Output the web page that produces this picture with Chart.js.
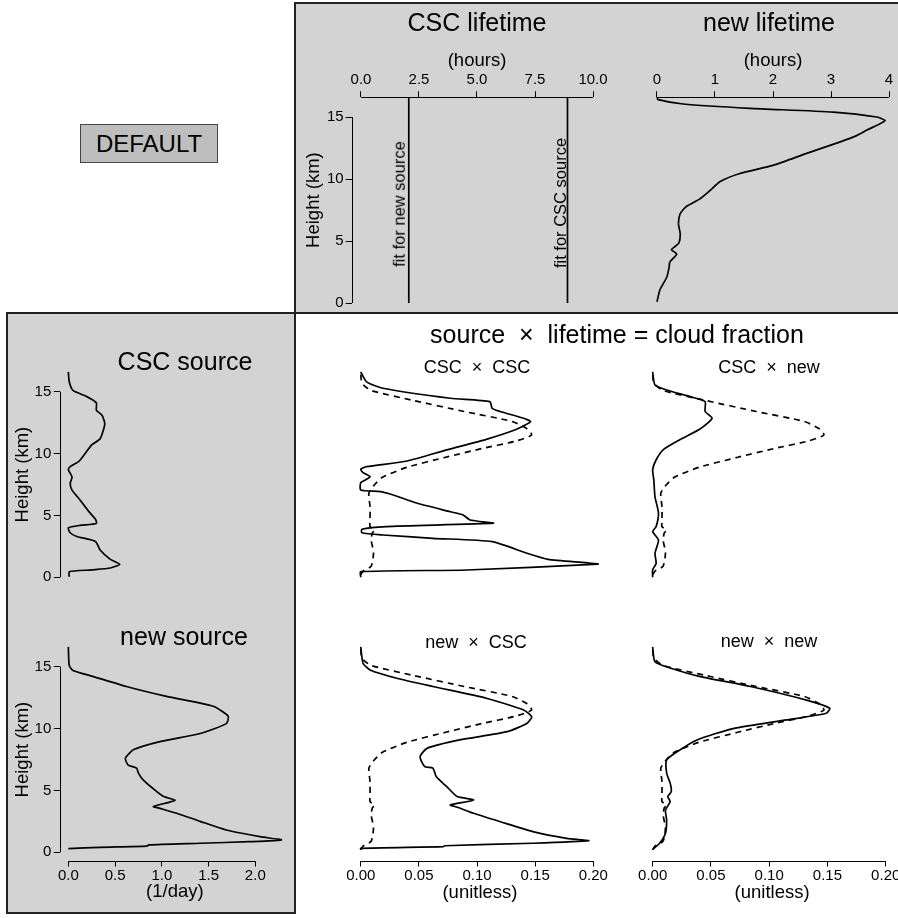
<!DOCTYPE html>
<html>
<head>
<title>source x lifetime = cloud fraction</title>
<script src="https://cdn.jsdelivr.net/npm/chart.js@4.4.1/dist/chart.umd.min.js"></script>
<style>
body { margin:0; width:898px; height:918px; overflow:hidden; background:#fff; position:relative;
       font-family:"Liberation Sans", Arial, Helvetica, sans-serif; }
.box { position:absolute; background:#d3d3d3; border:2px solid #222; box-sizing:border-box; }
canvas { position:absolute; }
.lbl { position:absolute; transform:translate(-50%,-50%); white-space:pre; line-height:1; color:#000; }
.big { font-size:25px; }
.sub { font-size:18px; }
.rot { font-size:16.5px; transform:translate(-50%,-50%) rotate(-90deg); }
#default { position:absolute; left:80px; top:124px; width:138px; height:39px; box-sizing:border-box;
           background:#bebebe; border:1px solid #444; font-size:24px; line-height:37px; text-align:center; }
</style>
</head>
<body>
<div class="box" style="left:294px; top:2px; width:620px; height:312px;"></div>
<div class="box" style="left:6px; top:312px; width:290px; height:602px;"></div>
<div id="default">DEFAULT</div>

<canvas id="lifeCsc"></canvas>
<canvas id="lifeNew"></canvas>
<canvas id="srcCsc"></canvas>
<canvas id="srcNew"></canvas>
<canvas id="cfCscCsc"></canvas>
<canvas id="cfCscNew"></canvas>
<canvas id="cfNewCsc"></canvas>
<canvas id="cfNewNew"></canvas>

<div class="lbl big" style="left:477px; top:22px;">CSC lifetime</div>
<div class="lbl big" style="left:769px; top:22px;">new lifetime</div>
<div class="lbl big" style="left:185px; top:361px;">CSC source</div>
<div class="lbl big" style="left:184px; top:636px;">new source</div>
<div class="lbl big" style="left:617px; top:334px;">source  ×  lifetime = cloud fraction</div>
<div class="lbl sub" style="left:477px; top:367px;">CSC  ×  CSC</div>
<div class="lbl sub" style="left:769px; top:367px;">CSC  ×  new</div>
<div class="lbl sub" style="left:476px; top:642px;">new  ×  CSC</div>
<div class="lbl sub" style="left:769px; top:641px;">new  ×  new</div>
<div class="lbl rot" style="left:399px; top:204px;">fit for new source</div>
<div class="lbl rot" style="left:560px; top:203px;">fit for CSC source</div>

<script>
// ---- data (height in km, value on the x axis) ----
// constant CSC lifetime fits (hours)
const fitHeights = [0, 16.6];
const fitNewSource = [2.06, 2.06];
const fitCscSource = [8.9, 8.9];

// new lifetime (hours)
const lifeNewH = [0.1, 1.05, 2.1, 2.9, 3.3, 3.95, 4.3, 4.55, 4.86, 5.6, 6.4, 7.2, 7.8, 8.4, 9.06, 9.8, 10.45, 11.1, 12.07, 13.0, 13.5, 13.95, 14.7, 15.0, 15.4, 15.7, 16.05, 16.4, 16.6];
const lifeNewV = [0.0, 0.05, 0.17, 0.21, 0.22, 0.34, 0.25, 0.31, 0.38, 0.40, 0.37, 0.40, 0.51, 0.74, 0.91, 1.09, 1.43, 2.0, 2.58, 3.16, 3.44, 3.62, 3.93, 3.79, 3.04, 1.6, 0.45, 0.02, 0.0];

// CSC source (1/day)
const srcCscH = [0.05, 0.45, 0.6, 0.75, 1.05, 1.45, 2.2, 2.9, 3.3, 3.6, 4.0, 4.2, 4.35, 4.7, 5.4, 6.25, 7.05, 7.6, 8.1, 8.7, 8.95, 9.35, 10.0, 10.7, 11.2, 12.4, 13.1, 13.5, 14.1, 14.6, 15.1, 15.8, 16.6];
const srcCscV = [0.01, 0.01, 0.25, 0.45, 0.55, 0.45, 0.34, 0.29, 0.09, 0.02, 0.0, 0.125, 0.30, 0.29, 0.21, 0.125, 0.04, 0.02, 0.04, 0.0, 0.02, 0.11, 0.18, 0.25, 0.34, 0.39, 0.36, 0.30, 0.30, 0.20, 0.05, 0.01, 0.0];

// new source (1/day)
const srcNewH = [0.3, 0.4, 0.5, 0.6, 0.73, 0.86, 1.0, 1.26, 1.8, 2.5, 3.15, 3.55, 3.7, 4.2, 4.5, 5.0, 5.85, 6.4, 6.8, 7.05, 7.6, 8.3, 8.95, 9.6, 10.4, 11.0, 11.8, 12.6, 13.4, 14.2, 14.7, 15.1, 16.6];
const srcNewV = [0.0, 0.34, 0.84, 0.86, 1.41, 1.94, 2.28, 2.05, 1.69, 1.41, 1.16, 0.98, 0.91, 1.14, 1.02, 0.93, 0.80, 0.75, 0.73, 0.64, 0.61, 0.70, 0.98, 1.41, 1.69, 1.71, 1.55, 1.05, 0.62, 0.27, 0.05, 0.01, 0.0];

// observed cloud fraction (dashed, same in all four panels)
const obsH = [0.2, 0.5, 0.9, 2.0, 3.0, 3.6, 3.8, 4.1, 4.7, 5.7, 6.8, 7.5, 8.1, 8.9, 9.7, 10.4, 11.0, 11.5, 12.0, 12.6, 13.4, 14.3, 15.1, 15.7, 16.6];
const obsV = [0.0, 0.002, 0.009, 0.011, 0.009, 0.010, 0.012, 0.008, 0.008, 0.008, 0.007, 0.012, 0.019, 0.040, 0.073, 0.104, 0.133, 0.147, 0.143, 0.130, 0.089, 0.045, 0.009, 0.001, 0.0];

// source x lifetime (solid)
const cscCscH = [0.0, 0.45, 0.59, 1.07, 1.18, 1.45, 1.94, 2.88, 3.15, 3.42, 3.6, 3.88, 4.1, 4.37, 4.63, 5.04, 5.3, 6.0, 6.65, 6.92, 7.06, 7.65, 7.87, 8.13, 8.46, 8.73, 8.94, 9.4, 10.3, 11.15, 11.96, 12.58, 12.85, 13.4, 13.66, 14.2, 14.47, 15.28, 15.8, 16.6];
const cscCscV = [0.0, 0.0, 0.091, 0.204, 0.194, 0.161, 0.143, 0.113, 0.062, 0.019, 0.001, 0.001, 0.022, 0.114, 0.094, 0.088, 0.077, 0.048, 0.028, 0.017, 0.0, 0.0, 0.004, 0.008, 0.002, 0.0, 0.005, 0.040, 0.074, 0.108, 0.134, 0.146, 0.140, 0.120, 0.113, 0.111, 0.077, 0.019, 0.005, 0.0];

const cscNewH = [0.0, 0.59, 1.13, 1.94, 3.0, 3.7, 4.1, 5.2, 6.5, 7.87, 8.7, 9.5, 10.3, 11.1, 12.0, 12.85, 13.4, 14.2, 14.6, 15.14, 15.55, 16.6];
const cscNewV = [0.0, 0.0, 0.003, 0.002, 0.005, 0.0, 0.003, 0.005, 0.002, 0.001, 0.0, 0.003, 0.009, 0.023, 0.041, 0.051, 0.045, 0.045, 0.032, 0.012, 0.002, 0.0];

const newCscH = [0.19, 0.32, 0.45, 0.53, 0.73, 0.94, 1.13, 1.67, 2.47, 3.15, 3.64, 3.82, 4.23, 4.5, 5.3, 6.1, 6.8, 6.92, 7.73, 8.4, 9.08, 9.75, 10.43, 10.96, 11.5, 12.45, 13.4, 14.07, 14.74, 15.28, 16.6];
const newCscV = [0.0, 0.0, 0.071, 0.072, 0.148, 0.196, 0.177, 0.148, 0.120, 0.097, 0.083, 0.077, 0.097, 0.083, 0.074, 0.065, 0.062, 0.055, 0.051, 0.057, 0.085, 0.126, 0.143, 0.147, 0.140, 0.108, 0.062, 0.031, 0.008, 0.002, 0.0];

const newNewH = [0.24, 0.73, 1.54, 2.6, 3.4, 4.1, 4.5, 4.9, 5.6, 6.4, 7.46, 8.13, 9.08, 10.0, 10.7, 11.24, 11.64, 12.3, 13.4, 14.2, 14.9, 15.4, 16.6];
const newNewV = [0.0, 0.006, 0.011, 0.012, 0.011, 0.015, 0.013, 0.016, 0.015, 0.012, 0.012, 0.021, 0.038, 0.069, 0.115, 0.149, 0.152, 0.132, 0.084, 0.041, 0.015, 0.002, 0.0];

// tick values and labels
const heightTicks = [0, 5, 10, 15];
const heightLabels = ['0', '5', '10', '15'];
const cscLifeTicks = [0, 2.5, 5, 7.5, 10];
const cscLifeLabels = ['0.0', '2.5', '5.0', '7.5', '10.0'];
const newLifeTicks = [0, 1, 2, 3, 4];
const newLifeLabels = ['0', '1', '2', '3', '4'];
const sourceTicks = [0, 0.5, 1, 1.5, 2];
const sourceLabels = ['0.0', '0.5', '1.0', '1.5', '2.0'];
const fracTicks = [0, 0.05, 0.1, 0.15, 0.2];
const fracLabels = ['0.00', '0.05', '0.10', '0.15', '0.20'];

Chart.defaults.font.family = '"Liberation Sans", Arial, Helvetica, sans-serif';
Chart.defaults.color = '#000';

const M = 70;

// R style axis line: only from first to last tick
const rAxis = {
    id: 'rAxis',
    afterDraw(chart) {
        const ctx = chart.ctx, a = chart.chartArea;
        ctx.save();
        ctx.strokeStyle = '#000';
        ctx.lineWidth = 1;
        for (const s of Object.values(chart.scales)) {
            if (!s.options.display || !s.ticks.length) continue;
            const p0 = s.getPixelForValue(s.ticks[0].value);
            const p1 = s.getPixelForValue(s.ticks[s.ticks.length - 1].value);
            ctx.beginPath();
            if (s.position === 'bottom' || s.position === 'top') {
                const y = Math.round(s.position === 'bottom' ? a.bottom : a.top) + 0.5;
                ctx.moveTo(p0, y); ctx.lineTo(p1, y);
            } else {
                const x = Math.round(a.left) + 0.5;
                ctx.moveTo(x, p0); ctx.lineTo(x, p1);
            }
            ctx.stroke();
        }
        ctx.restore();
    }
};

function axisCfg(pos, range, ax) {
    const c = {
        type: 'linear', position: pos, min: range[0], max: range[1], display: !!ax,
        grid: { drawOnChartArea: false, drawTicks: true, tickLength: 6, color: '#000', lineWidth: 1 },
        border: { display: false }
    };
    if (ax) {
        c.afterBuildTicks = s => { s.ticks = ax.ticks.map(v => ({ value: v })); };
        c.ticks = { color: '#000', font: { size: 15 }, padding: ax.pad, maxRotation: 0, minRotation: 0,
                    autoSkip: false, callback: (v, i) => ax.labels[i] };
        c.title = { display: true, text: ax.title, color: '#000', font: { size: 18.5 }, padding: 0 };
        c.afterFit = s => { if (s.isHorizontal()) s.height = ax.size; else s.width = ax.size; };
    }
    return c;
}

function line(hs, vs, dashed) {
    return {
        data: hs.map((h, i) => ({ x: vs[i], y: h })),
        showLine: true, fill: false, pointRadius: 0, tension: 0.2,
        borderColor: '#000', borderWidth: 1.7, borderDash: dashed ? [6, 5] : []
    };
}

function panel(id, area, xr, yr, xAxis, xPos, yAxis, datasets) {
    const cv = document.getElementById(id);
    const cl = Math.round(area.l - M), ct = Math.round(area.t - M);
    const cr = Math.round(area.r + M), cb = Math.round(area.b + M);
    cv.width = cr - cl; cv.height = cb - ct;
    cv.style.left = cl + 'px'; cv.style.top = ct + 'px';
    cv.style.width = (cr - cl) + 'px'; cv.style.height = (cb - ct) + 'px';
    const pad = {
        left: area.l - cl - (yAxis ? yAxis.size : 0),
        right: cr - area.r,
        top: area.t - ct - (xAxis && xPos === 'top' ? xAxis.size : 0),
        bottom: cb - area.b - (xAxis && xPos === 'bottom' ? xAxis.size : 0)
    };
    return new Chart(cv, {
        type: 'scatter',
        data: { datasets: datasets },
        options: {
            responsive: false, animation: false, devicePixelRatio: 1,
            layout: { autoPadding: false, padding: pad },
            plugins: { legend: { display: false }, tooltip: { enabled: false } },
            scales: { x: axisCfg(xPos, xr, xAxis), y: axisCfg('left', yr, yAxis) }
        },
        plugins: [rAxis]
    });
}

const yTop = [0, 16.6];
const yRow = [-0.664, 17.264];
const hAxisTop = { ticks: heightTicks, labels: heightLabels, title: 'Height (km)', size: 48.6, pad: 2 };
const hAxisLow = { ticks: heightTicks, labels: heightLabels, title: 'Height (km)', size: 48.3, pad: 2.5 };

panel('lifeCsc', { l: 351.7, r: 602.3, t: 97.2, b: 303 }, [-0.4, 10.4], yTop,
    { ticks: cscLifeTicks, labels: cscLifeLabels, title: '(hours)', size: 47.1, pad: 2 }, 'top', hAxisTop,
    [line(fitHeights, fitNewSource), line(fitHeights, fitCscSource)]);

panel('lifeNew', { l: 647.7, r: 898.3, t: 97.2, b: 303 }, [-0.16, 4.16], yTop,
    { ticks: newLifeTicks, labels: newLifeLabels, title: '(hours)', size: 47.1, pad: 2 }, 'top', null,
    [line(lifeNewH, lifeNewV)]);

panel('srcCsc', { l: 59.8, r: 290, t: 363.7, b: 585.5 }, [-0.0912, 2.3712], yRow,
    null, 'bottom', hAxisLow, [line(srcCscH, srcCscV)]);

panel('srcNew', { l: 59.8, r: 290, t: 638.7, b: 860.5 }, [-0.0912, 2.3712], yRow,
    { ticks: sourceTicks, labels: sourceLabels, title: '(1/day)', size: 42.3, pad: 0 }, 'bottom', hAxisLow,
    [line(srcNewH, srcNewV)]);

panel('cfCscCsc', { l: 351.2, r: 608.7, t: 363.7, b: 585.5 }, [-0.0082, 0.2132], yRow,
    null, 'bottom', null, [line(obsH, obsV, true), line(cscCscH, cscCscV)]);

panel('cfCscNew', { l: 643.1, r: 901.1, t: 363.7, b: 585.5 }, [-0.0082, 0.2132], yRow,
    null, 'bottom', null, [line(obsH, obsV, true), line(cscNewH, cscNewV)]);

panel('cfNewCsc', { l: 351.2, r: 608.7, t: 638.7, b: 860.5 }, [-0.0082, 0.2132], yRow,
    { ticks: fracTicks, labels: fracLabels, title: '(unitless)', size: 43.2, pad: 0 }, 'bottom', null,
    [line(obsH, obsV, true), line(newCscH, newCscV)]);

panel('cfNewNew', { l: 643.1, r: 901.1, t: 638.7, b: 860.5 }, [-0.0082, 0.2132], yRow,
    { ticks: fracTicks, labels: fracLabels, title: '(unitless)', size: 43.2, pad: 0 }, 'bottom', null,
    [line(obsH, obsV, true), line(newNewH, newNewV)]);
</script>
</body>
</html>
